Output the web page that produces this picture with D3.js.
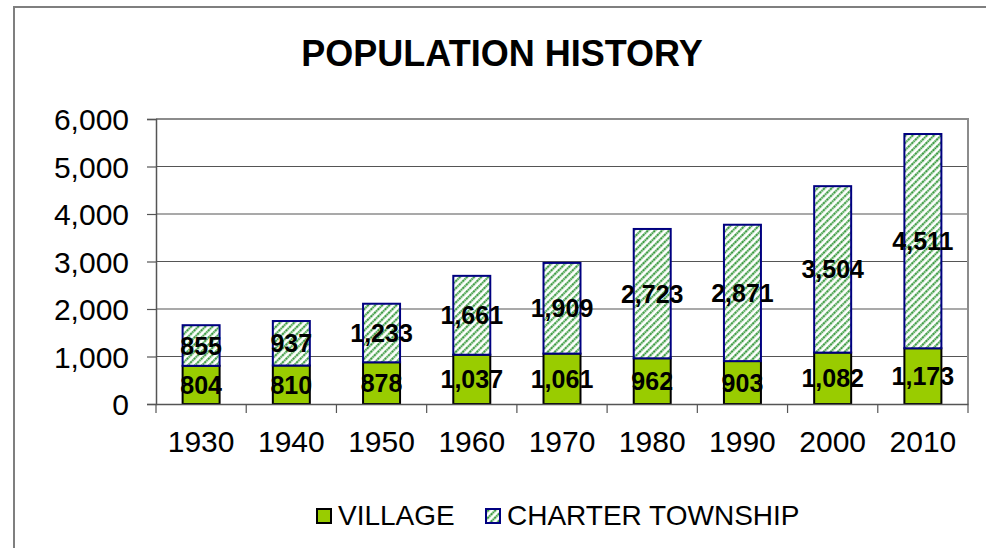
<!DOCTYPE html>
<html>
<head>
<meta charset="utf-8">
<script src="https://cdn.jsdelivr.net/npm/d3@7"></script>
<style>
  html, body { margin: 0; padding: 0; background: #fff; }
  svg { display: block; font-family: "Liberation Sans", Arial, sans-serif; }
</style>
</head>
<body>
<div id="chart-container"></div>
<script>
// Data
const years = ["1930", "1940", "1950", "1960", "1970", "1980", "1990", "2000", "2010"];
const village = [804, 810, 878, 1037, 1061, 962, 903, 1082, 1173];
const township = [855, 937, 1233, 1661, 1909, 2723, 2871, 3504, 4511];
const yTicks = [0, 1000, 2000, 3000, 4000, 5000, 6000];
const seriesNames = ["VILLAGE", "CHARTER TOWNSHIP"];

const W = 986, H = 548;
const plot = { left: 156, right: 968, top: 119, bottom: 404 };

const svg = d3.select('#chart-container')
    .append('svg')
    .attr('width', W)
    .attr('height', H);

// hatch pattern for township
const defs = svg.append('defs');
defs.append('pattern')
    .attr('id', 'hatch')
    .attr('patternUnits', 'userSpaceOnUse')
    .attr('width', 5)
    .attr('height', 5)
    .attr('patternTransform', 'rotate(45)')
    .call(p => {
        p.append('rect').attr('width', 5).attr('height', 5).attr('fill', '#fff');
        p.append('line')
            .attr('x1', 1.2).attr('y1', 0).attr('x2', 1.2).attr('y2', 5)
            .attr('stroke', '#35973a')
            .attr('stroke-width', 2.1)
            .attr('stroke-dasharray', '2,0.5');
    });

// outer chart border (runs off the right/bottom of the window)
svg.append('rect')
    .attr('x', 14).attr('y', 7)
    .attr('width', W + 20).attr('height', H + 20)
    .attr('fill', 'none')
    .attr('stroke', '#7f7f7f')
    .attr('stroke-width', 2);

// Scales
const xScale = d3.scaleBand()
    .domain(years)
    .range([plot.left, plot.right])
    .padding(0);

const yScale = d3.scaleLinear()
    .domain([0, 6000])
    .range([plot.bottom, plot.top]);

const barW = xScale.bandwidth() * 0.41;

// gridlines
svg.append('g')
    .selectAll('line')
    .data(yTicks.slice(1, -1))
    .enter()
    .append('line')
    .attr('x1', plot.left).attr('x2', plot.right)
    .attr('y1', d => yScale(d)).attr('y2', d => yScale(d))
    .attr('stroke', '#555')
    .attr('stroke-width', 1.2);

// plot area border (top + right)
svg.append('path')
    .attr('d', `M${plot.left},${plot.top}H${plot.right}V${plot.bottom}`)
    .attr('fill', 'none')
    .attr('stroke', '#8c8c8c')
    .attr('stroke-width', 2);

// stacked bars
const stacked = years.map((y, i) => ({ year: y, v: village[i], t: township[i] }));

svg.selectAll('.bar-village')
    .data(stacked)
    .enter()
    .append('rect')
    .attr('class', 'bar-village')
    .attr('x', d => xScale(d.year) + (xScale.bandwidth() - barW) / 2)
    .attr('y', d => yScale(d.v))
    .attr('width', barW)
    .attr('height', d => yScale(0) - yScale(d.v))
    .attr('fill', '#99cc00')
    .attr('stroke', '#000')
    .attr('stroke-width', 2);

svg.selectAll('.bar-township')
    .data(stacked)
    .enter()
    .append('rect')
    .attr('class', 'bar-township')
    .attr('x', d => xScale(d.year) + (xScale.bandwidth() - barW) / 2)
    .attr('y', d => yScale(d.v + d.t))
    .attr('width', barW)
    .attr('height', d => yScale(d.v) - yScale(d.v + d.t))
    .attr('fill', 'url(#hatch)')
    .attr('stroke', '#000080')
    .attr('stroke-width', 2);

// Axes
const yAxis = svg.append('g')
    .attr('transform', `translate(${plot.left},0)`)
    .call(d3.axisLeft(yScale).tickValues(yTicks).tickFormat(d3.format(',')).tickSize(9).tickPadding(18));

const xAxis = svg.append('g')
    .attr('transform', `translate(0,${plot.bottom})`)
    .call(d3.axisBottom(xScale).tickSize(0).tickPadding(26));

// category separator ticks
const bounds = years.map(y => xScale(y)).concat([plot.right]);
xAxis.selectAll('.sep')
    .data(bounds)
    .enter()
    .append('line')
    .attr('class', 'sep')
    .attr('x1', d => d).attr('x2', d => d)
    .attr('y1', 0).attr('y2', 9)
    .attr('stroke', '#555')
    .attr('stroke-width', 1.2);

[yAxis, xAxis].forEach(g => {
    g.select('.domain').attr('stroke', '#555').attr('stroke-width', 1.5);
    g.selectAll('.tick line').attr('stroke', '#555').attr('stroke-width', 1.2);
    g.selectAll('text')
        .attr('font-family', '"Liberation Sans", Arial, sans-serif')
        .attr('font-size', 30)
        .attr('fill', '#000');
});
yAxis.selectAll('text').attr('dy', '0.36em');
xAxis.selectAll('text').attr('dy', '0.72em');

// data labels
const labelFmt = d3.format(',');
svg.selectAll('.lbl-v')
    .data(stacked)
    .enter()
    .append('text')
    .attr('class', 'lbl-v')
    .attr('x', d => xScale(d.year) + xScale.bandwidth() / 2)
    .attr('y', d => (yScale(0) + yScale(d.v)) / 2)
    .attr('dy', '0.36em')
    .attr('text-anchor', 'middle')
    .attr('font-size', 25)
    .attr('font-weight', 'bold')
    .text(d => labelFmt(d.v));

svg.selectAll('.lbl-t')
    .data(stacked)
    .enter()
    .append('text')
    .attr('class', 'lbl-t')
    .attr('x', d => xScale(d.year) + xScale.bandwidth() / 2)
    .attr('y', d => (yScale(d.v) + yScale(d.v + d.t)) / 2)
    .attr('dy', '0.36em')
    .attr('text-anchor', 'middle')
    .attr('font-size', 25)
    .attr('font-weight', 'bold')
    .text(d => labelFmt(d.t));

// title
svg.append('text')
    .attr('x', 502)
    .attr('y', 66)
    .attr('text-anchor', 'middle')
    .attr('font-size', 36)
    .attr('font-weight', 'bold')
    .text('POPULATION HISTORY');

// legend
const legend = svg.append('g');
const legendItems = [
    { name: seriesNames[0], x: 317, fill: '#99cc00', stroke: '#000' },
    { name: seriesNames[1], x: 486, fill: 'url(#hatch)', stroke: '#000080' }
];
legendItems.forEach(it => {
    legend.append('rect')
        .attr('x', it.x).attr('y', 509)
        .attr('width', 14).attr('height', 14)
        .attr('fill', it.fill)
        .attr('stroke', it.stroke)
        .attr('stroke-width', 2);
    legend.append('text')
        .attr('x', it.x + 21)
        .attr('y', 525)
        .attr('font-size', 28)
        .text(it.name);
});
</script>
</body>
</html>
